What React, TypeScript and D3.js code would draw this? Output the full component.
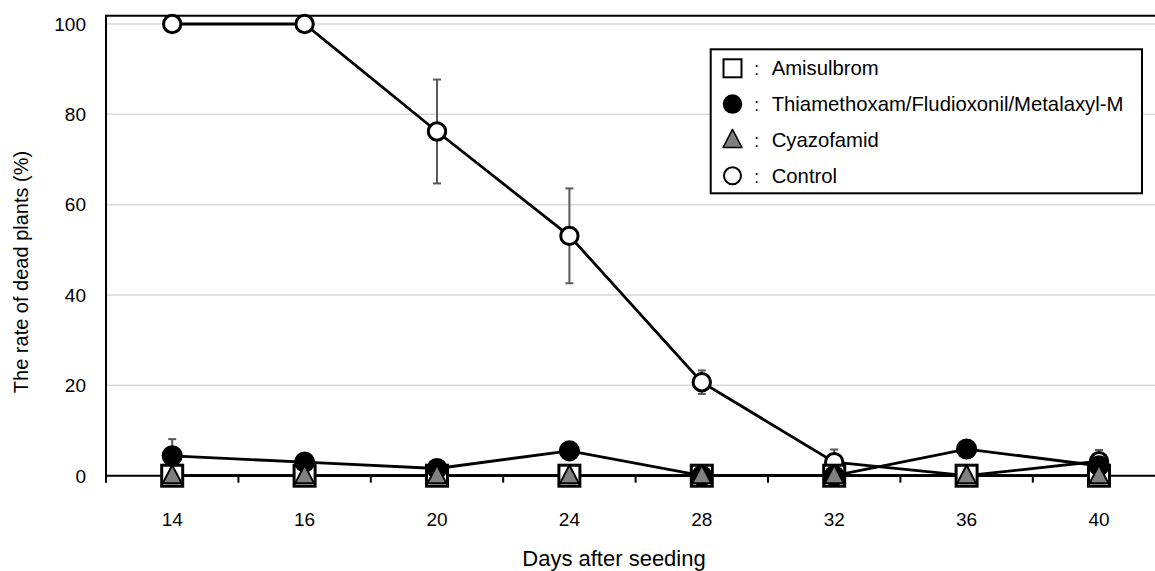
import React from "react";
import * as d3 from "d3";

const days = ["14", "16", "20", "24", "28", "32", "36", "40"];
const yTicks = [0, 20, 40, 60, 80, 100];

const amisulbrom = [0, 0, 0, 0, 0, 0, 0, 0];
const thiamethoxam = [4.4, 3.0, 1.6, 5.5, 0, 0, 5.9, 2.2];
const thiamethoxamErr = [3.7, 0, 0, 0, 0, 0, 0, 0];
const cyazofamid = [0, 0, 0, 0, 0, 0, 0, 0];
const control = [100, 100, 76.2, 53.1, 20.7, 3.0, 0, 3.2];
const controlErr = [0, 0, 11.5, 10.5, 2.6, 2.8, 0, 2.5];

const seriesNames = [
  "Amisulbrom",
  "Thiamethoxam/Fludioxonil/Metalaxyl-M",
  "Cyazofamid",
  "Control",
];

const FONT = "'Liberation Sans', Arial, sans-serif";

function Marker({ kind, x, y, legend }: { kind: string; x: number; y: number; legend?: boolean }) {
  if (kind === "square") {
    const s = legend ? 18 : 21;
    return <rect x={x - s / 2} y={y - s / 2} width={s} height={s} fill="#fff" stroke="#000" strokeWidth={legend ? 2 : 3} />;
  }
  if (kind === "circleFilled") {
    return <circle cx={x} cy={y} r={legend ? 9 : 9.8} fill="#000" stroke="#000" strokeWidth={1.5} />;
  }
  if (kind === "circleOpen") {
    return <circle cx={x} cy={y} r={legend ? 8.5 : 8.7} fill="#fff" stroke="#000" strokeWidth={legend ? 2 : 3} />;
  }
  const w = 19;
  const h = 17;
  const p = `M${x},${y - h * 0.62} L${x + w / 2},${y + h * 0.45} L${x - w / 2},${y + h * 0.45} Z`;
  return <path d={p} fill="#808080" stroke="#000" strokeWidth={legend ? 1.5 : 2} strokeLinejoin="round" />;
}

export default function App() {
  const W = 1155;
  const H = 571;
  const left = 106;
  const x = d3.scaleBand<string>().domain(days).range([left, left + 8 * 132.4]).padding(0);
  const y = d3.scaleLinear().domain([0, 100]).range([475.7, 24]);
  const cx = (d: string) => (x(d) as number) + x.bandwidth() / 2;
  const line = d3
    .line<number>()
    .x((_, i) => cx(days[i]))
    .y((v) => y(v));

  const series = [
    { name: seriesNames[3], vals: control, err: controlErr, kind: "circleOpen" },
    { name: seriesNames[0], vals: amisulbrom, err: null, kind: "square" },
    { name: seriesNames[1], vals: thiamethoxam, err: thiamethoxamErr, kind: "circleFilled" },
    { name: seriesNames[2], vals: cyazofamid, err: null, kind: "triangle" },
  ];

  const legendItems = [
    { name: seriesNames[0], kind: "square" },
    { name: seriesNames[1], kind: "circleFilled" },
    { name: seriesNames[2], kind: "triangle" },
    { name: seriesNames[3], kind: "circleOpen" },
  ];
  const legendRowY = d3.scaleLinear().domain([0, 3]).range([68.3, 175.7]);
  const yTop = 15.7;

  return (
    <svg width={W} height={H} style={{ position: "absolute", left: 0, top: 0, background: "#fff" }} fontFamily={FONT}>
      <rect x={0} y={0} width={W} height={H} fill="#fff" />
      {yTicks.filter((t) => t > 0).map((t) => (
        <line key={t} x1={left} x2={W} y1={y(t)} y2={y(t)} stroke="#d9d9d9" strokeWidth={1.5} />
      ))}
      <line x1={left} x2={W} y1={yTop} y2={yTop} stroke="#000" strokeWidth={2} />
      <line x1={left} x2={left} y1={yTop - 1} y2={y(0) + 7} stroke="#000" strokeWidth={2} />
      {yTicks.map((t) => (
        <text key={t} x={86} y={y(t) + 6.8} textAnchor="end" fontSize={19} fill="#000">
          {t}
        </text>
      ))}
      {days.map((d) => (
        <line key={d} x1={(x(d) as number) + x.bandwidth()} x2={(x(d) as number) + x.bandwidth()} y1={y(0)} y2={y(0) + 7} stroke="#000" strokeWidth={2} />
      ))}
      {days.map((d) => (
        <text key={d} x={cx(d)} y={525.5} textAnchor="middle" fontSize={19} fill="#000">
          {d}
        </text>
      ))}
      <text x={614} y={566} textAnchor="middle" fontSize={22} fill="#000">
        Days after seeding
      </text>
      <text transform={`translate(28,272) rotate(-90)`} textAnchor="middle" fontSize={20} fill="#000">
        The rate of dead plants (%)
      </text>
      {series.map((s) => (
        <path key={s.name} d={line(s.vals) as string} fill="none" stroke="#000" strokeWidth={2.8} />
      ))}
      <line x1={left - 1} x2={W} y1={y(0)} y2={y(0)} stroke="#000" strokeWidth={2} />
      {series.map((s) =>
        s.err
          ? s.vals.map((v, i) =>
              s.err![i] > 0 ? (
                <g key={s.name + i} stroke="#595959" strokeWidth={2}>
                  <line x1={cx(days[i])} x2={cx(days[i])} y1={y(v + s.err![i])} y2={y(Math.max(0, v - s.err![i]))} />
                  <line x1={cx(days[i]) - 4} x2={cx(days[i]) + 4} y1={y(v + s.err![i])} y2={y(v + s.err![i])} />
                  <line x1={cx(days[i]) - 4} x2={cx(days[i]) + 4} y1={y(Math.max(0, v - s.err![i]))} y2={y(Math.max(0, v - s.err![i]))} />
                </g>
              ) : null
            )
          : null
      )}
      {series.map((s) =>
        s.vals.map((v, i) => <Marker key={s.name + "m" + i} kind={s.kind} x={cx(days[i])} y={y(v)} />)
      )}
      <rect x={710.7} y={49.3} width={431.3} height={144} fill="#fff" stroke="#000" strokeWidth={2} />
      {legendItems.map((it, i) => (
        <g key={it.name}>
          <Marker kind={it.kind} x={732.5} y={legendRowY(i)} legend />
          <text x={756.7} y={legendRowY(i) + 7} textAnchor="middle" fontSize={19} fill="#000">
            :
          </text>
          <text x={771.7} y={legendRowY(i) + 7} fontSize={20.3} fill="#000">
            {it.name}
          </text>
        </g>
      ))}
    </svg>
  );
}
